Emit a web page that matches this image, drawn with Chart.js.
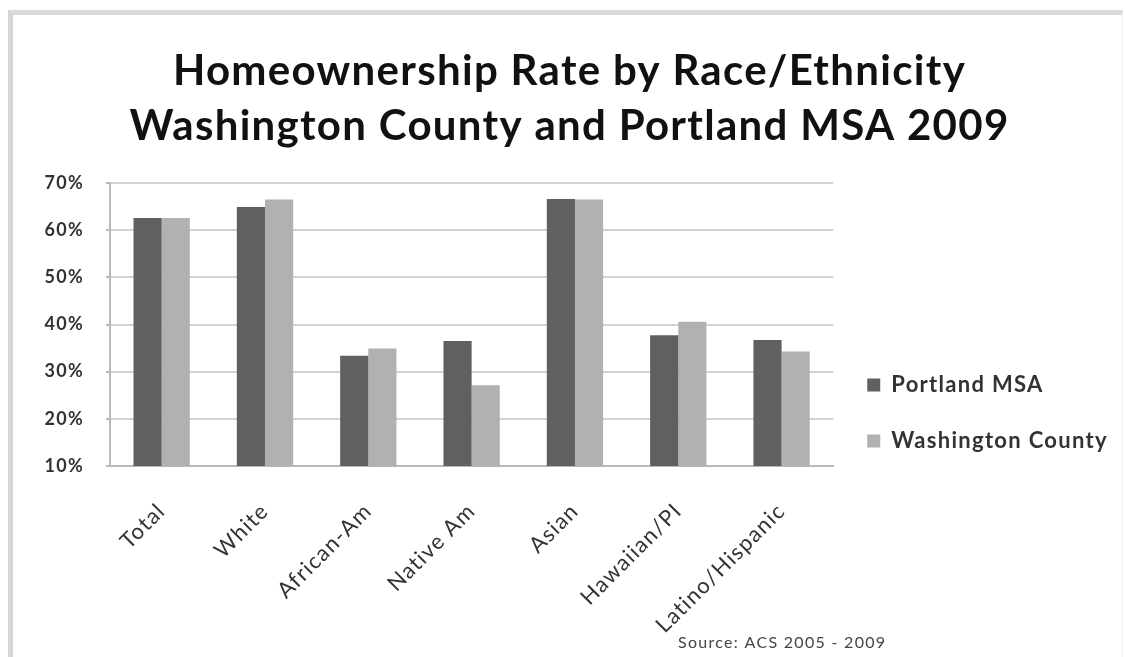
<!DOCTYPE html>
<html>
<head>
<meta charset="utf-8">
<script src="https://cdn.jsdelivr.net/npm/chart.js@4.4.1/dist/chart.umd.min.js"></script>
<style>
  html, body { margin: 0; padding: 0; background: #fff; }
  #wrap { position: relative; width: 1125px; height: 657px; overflow: hidden; }
  #frame {
    position: absolute; left: 8px; top: 10px; right: 2px; bottom: -20px;
    border-top: 5px solid #dadada; border-left: 5px solid #d6d6d6; border-right: 1px solid #f0f0f0;
  }
  #chart { position: absolute; left: 0; top: 0; }
</style>
</head>
<body>
<div id="wrap">
  <div id="frame"></div>
  <canvas id="chart" width="1125" height="657"></canvas>
</div>
<script>
const groups = ['Total', 'White', 'African-Am', 'Native Am', 'Asian', 'Hawaiian/PI', 'Latino/Hispanic']
const portlandMsa = [62.6, 64.9, 33.4, 36.5, 66.6, 37.7, 36.7]
const washingtonCounty = [62.6, 66.5, 34.9, 27.1, 66.5, 40.6, 34.3]
const yTicks = [10, 20, 30, 40, 50, 60, 70]
const titleLines = ['Homeownership Rate by Race/Ethnicity', 'Washington County and Portland MSA 2009']
const sourceText = 'Source: ACS 2005 - 2009'

const axisColor = '#b9b9b9'
const gridColor = '#d2d2d2'
const letterSpacing = '1.3px'

// the old office-style text is spaced out a little, set it before measuring and drawing
const textSpacing = {
  id: 'textSpacing',
  beforeUpdate(chart) { chart.ctx.letterSpacing = letterSpacing },
  beforeDraw(chart) { chart.ctx.letterSpacing = letterSpacing }
}

// legend sits lower, beside the bottom half of the plot; let its labels run to the edge
const legendDrop = {
  id: 'legendDrop',
  afterLayout(chart) {
    chart.legend.top = 169
    chart.legend.right = chart.width
  }
}

// small note under the legend
const sourceNote = {
  id: 'sourceNote',
  afterDraw(chart) {
    const { ctx } = chart
    ctx.save()
    ctx.font = '16px Lato'
    ctx.fillStyle = '#444'
    ctx.textBaseline = 'alphabetic'
    ctx.fillText(sourceText, 678, 648)
    ctx.restore()
  }
}

new Chart(document.getElementById('chart'), {
  type: 'bar',
  data: {
    labels: groups,
    datasets: [
      {
        label: 'Portland MSA',
        data: portlandMsa,
        backgroundColor: '#606060'
      },
      {
        label: 'Washington County',
        data: washingtonCounty,
        backgroundColor: '#b1b1b1'
      }
    ]
  },
  options: {
    responsive: false,
    animation: false,
    devicePixelRatio: 1,
    categoryPercentage: 0.545,
    barPercentage: 1,
    layout: {
      padding: { top: 0, left: 42, right: 28, bottom: 0 }
    },
    scales: {
      x: {
        grid: { display: false },
        border: { display: true, color: axisColor, width: 2 },
        ticks: {
          color: '#333',
          font: { family: 'Lato', size: 22 },
          minRotation: 45,
          maxRotation: 45,
          autoSkip: false,
          padding: 24
        },
        afterFit: scale => { scale.height = 191 }
      },
      y: {
        min: 10,
        max: 70,
        grid: {
          color: gridColor,
          lineWidth: 2,
          drawTicks: true,
          tickLength: 4,
          tickColor: axisColor
        },
        border: { display: true, color: axisColor, width: 2 },
        ticks: {
          color: '#333',
          font: { family: 'Lato', size: 18, weight: 'bold' },
          padding: 22,
          callback: v => v + '%'
        },
        afterBuildTicks: axis => { axis.ticks = yTicks.map(v => ({ value: v })) },
        afterFit: scale => { scale.width = 68 }
      }
    },
    plugins: {
      title: {
        display: true,
        text: titleLines,
        color: '#111',
        font: { family: 'Lato', size: 42, weight: 'bold', lineHeight: 1.31 },
        padding: { top: 44, bottom: 29 }
      },
      legend: {
        position: 'right',
        align: 'center',
        labels: {
          boxWidth: 13,
          boxHeight: 13,
          padding: 34,
          color: '#333',
          font: { family: 'Lato', size: 22, weight: 'bold' }
        }
      },
      tooltip: { enabled: false }
    }
  },
  plugins: [textSpacing, legendDrop, sourceNote]
})
</script>
</body>
</html>
